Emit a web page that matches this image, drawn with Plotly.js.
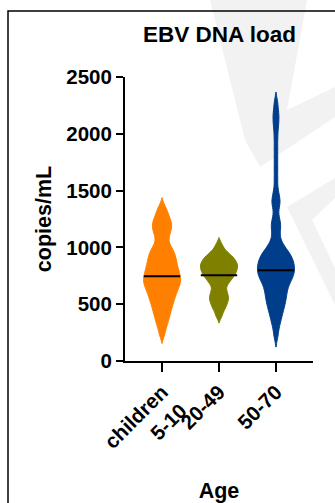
<!DOCTYPE html>
<html>
<head>
<meta charset="utf-8">
<script src="https://cdn.plot.ly/plotly-3.0.1.min.js"></script>
<style>
html,body{margin:0;padding:0;background:#fff;}
#chart{width:335px;height:503px;}
</style>
</head>
<body>
<div id="chart"></div>
<script>
// ---- data ----
var categories = ['children<br>5-10', '20-49', '50-70'];

var childrenValues = [236,295,333,364,391,416,438,459,479,498,515,532,547,562,577,591,604,617,630,641,653,665,675,686,696,706,716,726,736,747,758,769,779,791,803,815,827,840,852,865,879,892,906,920,934,949,965,980,1000,1019,1052,1083,1111,1136,1157,1176,1195,1213,1234,1256,1283,1315,1356];

var adultValues = [396,441,468,491,511,529,546,562,579,596,616,640,664,684,699,714,726,738,749,759,769,779,788,797,806,815,823,832,841,849,858,866,876,885,895,905,916,928,942,958,984,1025];

var elderValues = [214,281,326,359,388,412,435,456,474,492,509,524,540,555,570,584,598,612,626,639,653,665,677,689,700,710,719,728,738,746,755,763,772,780,788,796,804,812,820,828,836,845,853,861,870,879,887,896,905,915,924,934,944,955,967,978,995,1012,1034,1059,1098,1142,1174,1202,1233,1277,1346,1386,1417,1453,1513,1602,1691,1780,1869,1958,2040,2100,2150,2200,2275];

var medians = [745, 754, 798];

var yTickValues = [0, 500, 1000, 1500, 2000, 2500];

// ---- styles ----
var FONT = 'Liberation Sans, Arial, Helvetica, sans-serif';
var colors = ['rgb(255,128,0)', 'rgb(128,128,0)', 'rgb(0,61,138)'];
var bandwidths = [40, 30, 45];
var groups = [childrenValues, adultValues, elderValues];

// plot area in pixels (for decoration shapes)
var L = 125, R = 313, T = 77, B = 361;
function px(x){ return (x - L) / (R - L); }
function py(y){ return (B - y) / (B - T); }
function poly(pts){
  return pts.map(function(p, i){ return (i ? 'L' : 'M') + px(p[0]) + ',' + py(p[1]); }).join(' ') + ' Z';
}

var traces = groups.map(function(vals, i){
  return {
    type: 'violin',
    name: categories[i],
    y: vals,
    fillcolor: colors[i],
    line: {color: colors[i], width: 1},
    opacity: 1,
    points: false,
    box: {visible: false},
    meanline: {visible: false},
    bandwidth: bandwidths[i],
    spanmode: 'soft',
    width: 0.65,
    scalemode: 'width',
    hoverinfo: 'skip',
    showlegend: false
  };
});

traces.push({
  type: 'scatter',
  mode: 'markers',
  x: categories,
  y: medians,
  marker: {symbol: 'line-ew', size: 26, color: '#000', line: {color: '#000', width: 2}},
  hoverinfo: 'skip',
  showlegend: false
});

var layout = {
  width: 335,
  height: 503,
  margin: {l: L, r: 335 - R, t: T, b: 503 - B},
  paper_bgcolor: '#fff',
  plot_bgcolor: 'rgba(0,0,0,0)',
  showlegend: false,
  violinmode: 'overlay',
  font: {family: FONT, color: '#000'},
  title: {
    text: '<b>EBV DNA load</b>',
    font: {family: FONT, size: 22.5, color: '#000'},
    x: px(219.5), xref: 'paper', xanchor: 'center',
    y: 1 - 34 / 503, yref: 'container', yanchor: 'middle'
  },
  xaxis: {
    type: 'category',
    range: [-0.65, 2.65],
    showline: true, linecolor: '#000', linewidth: 2,
    ticks: 'outside', ticklen: 9, tickwidth: 2, tickcolor: '#000',
    tickangle: -45,
    tickfont: {family: FONT, size: 20.5, color: '#000', weight: 'bold'},
    showgrid: false, zeroline: false,
    fixedrange: true,
    title: {text: '<b>Age</b>', font: {family: FONT, size: 21.5, color: '#000'}, standoff: 12}
  },
  yaxis: {
    range: [0, 2500],
    tickvals: yTickValues,
    ticktext: yTickValues.map(function(v){ return '<b>' + v + '</b>'; }),
    showline: true, linecolor: '#000', linewidth: 2,
    ticks: 'outside', ticklen: 7, tickwidth: 2, tickcolor: '#000',
    tickfont: {family: FONT, size: 20.5, color: '#000'},
    showgrid: false, zeroline: false,
    fixedrange: true,
    title: {text: '<b>copies/mL</b>', font: {family: FONT, size: 21.5, color: '#000'}, standoff: 9}
  },
  shapes: [
    {type: 'path', xref: 'paper', yref: 'paper', layer: 'below', line: {width: 0},
     fillcolor: '#f2f2f2',
     path: poly([[210,0],[307,0],[287,110],[335,87],[335,117],[260,167],[245,140]])},
    {type: 'path', xref: 'paper', yref: 'paper', layer: 'below', line: {width: 0},
     fillcolor: '#f2f2f2',
     path: poly([[287,207],[335,178],[335,198],[312,220],[335,268],[335,305]])},
    {type: 'path', xref: 'paper', yref: 'paper', layer: 'above',
     line: {color: '#000', width: 1.5},
     path: 'M' + px(8) + ',' + py(503) + ' L' + px(8) + ',' + py(11) + ' L' + px(336) + ',' + py(11)}
  ]
};

Plotly.newPlot('chart', traces, layout, {staticPlot: true, displayModeBar: false});
</script>
</body>
</html>
